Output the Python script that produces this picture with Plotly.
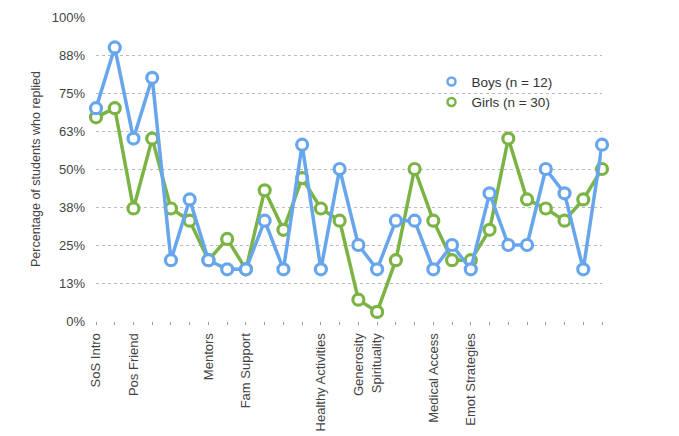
import plotly.graph_objects as go

categories = ["SoS Intro", "", "Pos Friend", "", "", "", "Mentors", "", "Fam Support", "", "", "",
              "Healthy Activities", "", "Generosity", "Spirituality", "", "", "Medical Access", "",
              "Emot Strategies", "", "", "", "", "", "", ""]
boys = [70, 90, 60, 80, 20, 40, 20, 17, 17, 33, 17, 58, 17, 50, 25, 17, 33, 33, 17, 25, 17, 42, 25, 25, 50, 42, 17, 58]
girls = [67, 70, 37, 60, 37, 33, 20, 27, 17, 43, 30, 47, 37, 33, 7, 3, 20, 50, 33, 20, 20, 30, 60, 40, 37, 33, 40, 50]
ytick_vals = [0, 12.5, 25, 37.5, 50, 62.5, 75, 87.5, 100]
ytick_text = ["0%", "13%", "25%", "38%", "50%", "63%", "75%", "88%", "100%"]

BLUE = "#67a6ec"
GREEN = "#7bb445"
x = list(range(len(categories)))

fig = go.Figure()
for name, vals, col in [("Girls (n = 30)", girls, GREEN), ("Boys (n = 12)", boys, BLUE)]:
    fig.add_trace(go.Scatter(
        x=x, y=vals, mode="lines+markers", name=name, showlegend=False,
        line=dict(color=col, width=3.5),
        marker=dict(symbol="circle", size=11, color="white", line=dict(color=col, width=3.2)),
        cliponaxis=False,
    ))
for name, col in [("Boys (n = 12)", BLUE), ("Girls (n = 30)", GREEN)]:
    fig.add_trace(go.Scatter(
        x=[None], y=[None], mode="markers", name=name,
        marker=dict(symbol="circle", size=8, color="white", line=dict(color=col, width=2.5)),
    ))

fig.update_layout(
    width=671, height=428,
    margin=dict(l=88, r=77, t=9, b=115, autoexpand=False),
    paper_bgcolor="white", plot_bgcolor="white",
    font=dict(family="Liberation Sans, Arial, sans-serif", size=12, color="#444"),
    showlegend=True,
    legend=dict(x=0.663, y=0.838, xanchor="left", yanchor="top", bgcolor="rgba(0,0,0,0)",
                font=dict(size=13.5, color="#333"), tracegroupgap=0, itemwidth=30),
    xaxis=dict(
        range=[0, len(categories) - 1], tickmode="array", tickvals=x, ticktext=categories,
        tickangle=-90, showgrid=False, zeroline=False, showline=False,
        ticks="outside", ticklen=3, tickcolor="#999", tickwidth=1, ticklabelstandoff=3,
        tickfont=dict(size=13, color="#444"), automargin=False,
    ),
    yaxis=dict(
        range=[0, 100], tickmode="array", tickvals=ytick_vals, ticktext=ytick_text,
        showgrid=True, gridcolor="#bbbbbb", griddash="dot", gridwidth=1,
        zeroline=False, showline=False, ticks="", ticklabelstandoff=10,
        tickfont=dict(size=13, color="#444"), automargin=False,
        title=dict(text="Percentage of students who replied", font=dict(size=12.5, color="#444"), standoff=8),
    ),
)
fig.write_html("out.html")
